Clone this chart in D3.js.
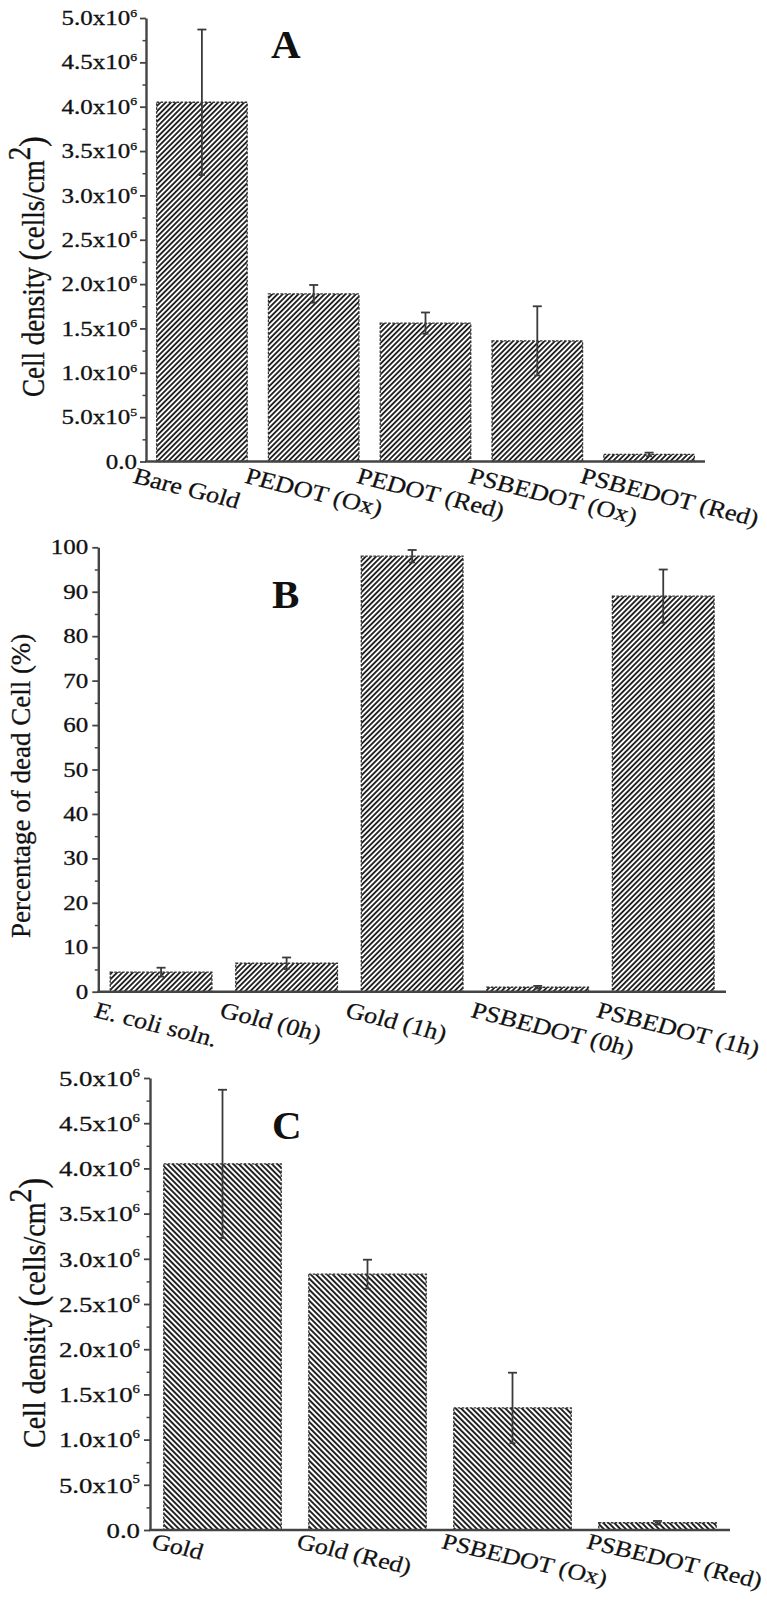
<!DOCTYPE html>
<html><head><meta charset="utf-8">
<script src="https://cdn.jsdelivr.net/npm/d3@7/dist/d3.min.js"></script>
<style>
body{margin:0;background:#fff;}
svg{display:block;}
</style></head><body>
<svg id="chart" width="767" height="1604"></svg>
<script>
// ---------- DATA ----------
const aCategories = ["Bare Gold", "PEDOT (Ox)", "PEDOT (Red)", "PSBEDOT (Ox)", "PSBEDOT (Red)"];
const aValues = [4.05e6, 1.89e6, 1.56e6, 1.36e6, 0.08e6];
const aErrors = [0.82e6, 0.10e6, 0.12e6, 0.39e6, 0.02e6];
const aTicks = [0, 5e5, 1e6, 1.5e6, 2e6, 2.5e6, 3e6, 3.5e6, 4e6, 4.5e6, 5e6];
const aTickLabels = ["0.0", "5.0x10^5", "1.0x10^6", "1.5x10^6", "2.0x10^6", "2.5x10^6", "3.0x10^6", "3.5x10^6", "4.0x10^6", "4.5x10^6", "5.0x10^6"];
const aMinorTicks = [2.5e5, 7.5e5, 1.25e6, 1.75e6, 2.25e6, 2.75e6, 3.25e6, 3.75e6, 4.25e6, 4.75e6];

const bCategories = ["E. coli soln.", "Gold (0h)", "Gold (1h)", "PSBEDOT (0h)", "PSBEDOT (1h)"];
const bValues = [4.4, 6.4, 98.0, 1.0, 89.0];
const bErrors = [1.0, 1.3, 1.4, 0.3, 6.0];
const bTicks = [0, 10, 20, 30, 40, 50, 60, 70, 80, 90, 100];
const bTickLabels = ["0", "10", "20", "30", "40", "50", "60", "70", "80", "90", "100"];
const bMinorTicks = [5, 15, 25, 35, 45, 55, 65, 75, 85, 95];

const cCategories = ["Gold", "Gold (Red)", "PSBEDOT (Ox)", "PSBEDOT (Red)"];
const cValues = [4.05e6, 2.83e6, 1.35e6, 0.08e6];
const cErrors = [0.82e6, 0.16e6, 0.39e6, 0.02e6];
const cTicks = aTicks;
const cTickLabels = aTickLabels;
const cMinorTicks = aMinorTicks;

// ---------- DRAW ----------
const FONT = "'Liberation Serif','Times New Roman',serif";
const svg = d3.select("#chart");
const defs = svg.append("defs");

function hatch(id, angle, spacing) {
  const p = defs.append("pattern").attr("id", id)
    .attr("patternUnits", "userSpaceOnUse")
    .attr("width", spacing).attr("height", spacing)
    .attr("patternTransform", `rotate(${angle})`);
  p.append("rect").attr("width", spacing).attr("height", spacing).attr("fill", "#fff");
  p.append("rect").attr("width", spacing * 0.5).attr("height", spacing).attr("fill", "#222");
}
hatch("hatchFwd", 45, 3.7);
hatch("hatchBack", -45, 3.9);

function panel(cfg) {
  const g = svg.append("g");
  const x = d3.scaleBand().domain(cfg.categories).range([cfg.x0, cfg.x1])
    .paddingInner(0.19).paddingOuter(0.095);
  const y = d3.scaleLinear().domain([0, cfg.yMax]).range([cfg.yBottom, cfg.yTop]);

  // bars
  g.selectAll("rect.bar").data(cfg.values).join("rect").attr("class", "bar")
    .attr("x", (d, i) => x(cfg.categories[i]))
    .attr("width", x.bandwidth())
    .attr("y", d => y(d))
    .attr("height", d => y(0) - y(d))
    .attr("fill", `url(#${cfg.pattern})`)
    .attr("stroke", "#333").attr("stroke-width", 1.3)
    .attr("stroke-dasharray", "2.5,1.5");

  // error bars
  const eb = g.selectAll("g.err").data(cfg.values).join("g").attr("class", "err")
    .attr("stroke", "#3a3a3a").attr("stroke-width", 1.8);
  const cx = (i) => x(cfg.categories[i]) + x.bandwidth() / 2;
  eb.append("line")
    .attr("x1", (d, i) => cx(i)).attr("x2", (d, i) => cx(i))
    .attr("y1", (d, i) => y(d + cfg.errors[i])).attr("y2", (d, i) => y(d - cfg.errors[i]));
  eb.append("line")
    .attr("x1", (d, i) => cx(i) - 4.5).attr("x2", (d, i) => cx(i) + 4.5)
    .attr("y1", (d, i) => y(d + cfg.errors[i])).attr("y2", (d, i) => y(d + cfg.errors[i]));
  eb.append("line")
    .attr("x1", (d, i) => cx(i) - 3).attr("x2", (d, i) => cx(i) + 3)
    .attr("y1", (d, i) => y(d - cfg.errors[i])).attr("y2", (d, i) => y(d - cfg.errors[i]));

  // minor ticks
  const minor = g.append("g").attr("transform", `translate(${cfg.x0},0)`)
    .call(d3.axisLeft(y).tickValues(cfg.minorTicks).tickSize(3.5).tickFormat(""));
  minor.select(".domain").remove();
  minor.selectAll("line").attr("stroke", "#444").attr("stroke-width", 1.5);

  // major ticks + axis line
  const ax = g.append("g").attr("transform", `translate(${cfg.x0},0)`)
    .call(d3.axisLeft(y).tickValues(cfg.ticks).tickSize(6).tickSizeOuter(0).tickFormat(""));
  ax.select(".domain").attr("stroke", "#444").attr("stroke-width", 2.4);
  ax.selectAll(".tick line").attr("stroke", "#444").attr("stroke-width", 1.8);
  ax.selectAll(".tick text")
    .attr("font-family", FONT).attr("font-size", cfg.tickFont).attr("fill", "#111")
    .attr("stroke", "#111").attr("stroke-width", 0.3)
    .attr("text-anchor", "end")
    .attr("x", -cfg.tickGap / cfg.stretch)
    .attr("dy", "0.33em")
    .attr("transform", `scale(${cfg.stretch},1)`)
    .each(function (d) {
      const t = d3.select(this);
      const lab = cfg.tickLabels[cfg.ticks.indexOf(d)];
      const parts = lab.split("^");
      t.append("tspan").text(parts[0]);
      if (parts.length > 1) {
        t.append("tspan").attr("font-size", cfg.tickFont * 0.55).attr("dy", -cfg.tickFont * 0.42).text(parts[1]);
      }
    });

  // x axis line
  g.append("line").attr("x1", cfg.x0 - 1).attr("x2", cfg.x1)
    .attr("y1", y(0)).attr("y2", y(0))
    .attr("stroke", "#444").attr("stroke-width", 2.4);

  // x labels
  g.selectAll("text.xl").data(cfg.categories).join("text").attr("class", "xl")
    .attr("font-family", FONT).attr("font-size", cfg.labelFont).attr("fill", "#111")
    .attr("stroke", "#111").attr("stroke-width", 0.25)
    .attr("text-anchor", "start")
    .attr("transform", d => `translate(${x(d) + x.bandwidth() / 2 - cfg.labelOffset},${y(0) + cfg.labelDy}) scale(1.15,1) rotate(${cfg.labelAngle})`)
    .text(d => d);

  // panel letter
  g.append("text").attr("x", cfg.letterX).attr("y", cfg.letterY)
    .attr("font-family", FONT).attr("font-size", 41).attr("font-weight", "bold").attr("fill", "#111")
    .text(cfg.letter);

  // y title
  const tt = g.append("text")
    .attr("font-family", FONT).attr("font-size", cfg.titleFont).attr("fill", "#111")
    .attr("stroke", "#111").attr("stroke-width", 0.3)
    .attr("text-anchor", "start")
    .attr("transform", `translate(${cfg.titleX},${cfg.titleY}) scale(${cfg.titleStretch},1) rotate(-90)`);
  cfg.title.forEach(p => {
    const s = tt.append("tspan").text(p.t);
    if (p.size) s.attr("font-size", cfg.titleFont * p.size);
    if (p.dy) s.attr("dy", cfg.titleFont * p.dy);
  });
}

const densityTitle = [
  { t: "Cell density " },
  { t: "(", size: 1.15 },
  { t: "cells/cm" },
  { t: "2", dy: -0.45 },
  { t: ")", size: 1.15, dy: 0.45 }
];

panel({
  categories: aCategories, values: aValues, errors: aErrors,
  ticks: aTicks, tickLabels: aTickLabels, minorTicks: aMinorTicks,
  x0: 146, x1: 705, yTop: 18, yBottom: 461.5, yMax: 5e6,
  pattern: "hatchFwd", tickFont: 20, stretch: 1.25, tickGap: 9,
  labelOffset: 70, labelDy: 21, labelFont: 23, labelAngle: 16,
  letter: "A", letterX: 271, letterY: 58,
  title: densityTitle, titleFont: 27, titleStretch: 1.15, titleX: 43.5, titleY: 397
});

panel({
  categories: bCategories, values: bValues, errors: bErrors,
  ticks: bTicks, tickLabels: bTickLabels, minorTicks: bMinorTicks,
  x0: 98.3, x1: 726, yTop: 547.3, yBottom: 991.7, yMax: 100,
  pattern: "hatchFwd", tickFont: 20, stretch: 1.25, tickGap: 10,
  labelOffset: 68, labelDy: 25, labelFont: 23, labelAngle: 16,
  letter: "B", letterX: 272, letterY: 608,
  title: [{ t: "Percentage of dead Cell (%)" }], titleFont: 27, titleStretch: 1.0, titleX: 30, titleY: 938
});

panel({
  categories: cCategories, values: cValues, errors: cErrors,
  ticks: cTicks, tickLabels: cTickLabels, minorTicks: cMinorTicks,
  x0: 150, x1: 730, yTop: 1078, yBottom: 1530, yMax: 5e6,
  pattern: "hatchBack", tickFont: 22, stretch: 1.22, tickGap: 10,
  labelOffset: 72, labelDy: 18, labelFont: 22.5, labelAngle: 15,
  letter: "C", letterX: 272, letterY: 1139,
  title: densityTitle, titleFont: 28, titleStretch: 1.15, titleX: 45, titleY: 1448
});
</script>
</body></html>
